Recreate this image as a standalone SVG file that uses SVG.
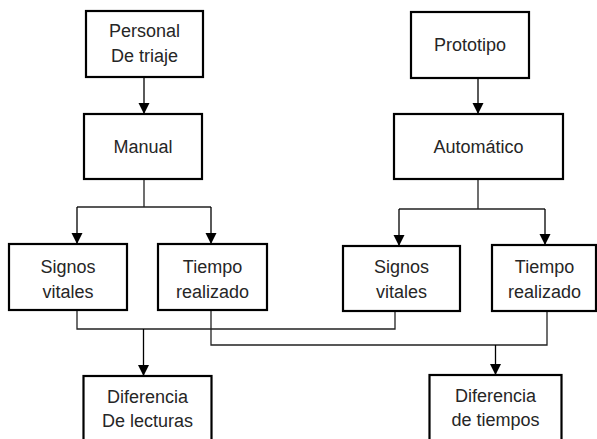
<svg xmlns="http://www.w3.org/2000/svg" width="597" height="439" viewBox="0 0 597 439">
<style>
.box{fill:#fff;stroke:#000;stroke-width:2.2}
.t{font-family:"Liberation Sans","Open Sans",Arial,sans-serif;font-size:18px;fill:#262626;text-anchor:middle}
.c{fill:none;stroke:#222;stroke-width:1.3}
.a{fill:none;stroke:#000;stroke-width:1.3;marker-end:url(#ah)}
</style>
<defs>
<marker id="ah" markerUnits="userSpaceOnUse" markerWidth="12" markerHeight="12" viewBox="0 0 12 12" refX="11" refY="6" orient="auto">
<path d="M0,0.5 L11,6 L0,11.5 Z" fill="#000"/>
</marker>
</defs>
<rect width="597" height="439" fill="#fff"/>
<g id="connectors">
<path class="a" d="M144,77 V114"/>
<path class="a" d="M478,78 V114"/>
<path class="c" d="M144,179 V207 M77,207 H211"/>
<path class="a" d="M77,207 V244"/>
<path class="a" d="M211,207 V244"/>
<path class="c" d="M478,179 V209 M399,209 H545"/>
<path class="a" d="M399,209 V246"/>
<path class="a" d="M545,209 V245"/>
<path class="c" d="M77,310 V329 H395 V311"/>
<path class="a" d="M143.5,329 V376"/>
<path class="c" d="M211,310 V345 H547 V311"/>
<path class="a" d="M495.5,345 V375"/>
</g>
<g id="personal"><rect class="box" x="86" y="11" width="117" height="66"/><text class="t" x="144.5" y="37">Personal</text><text class="t" x="144.5" y="62">De triaje</text></g>
<g id="manual"><rect class="box" x="84" y="114" width="118" height="65"/><text class="t" x="143" y="153">Manual</text></g>
<g id="prototipo"><rect class="box" x="411" y="12" width="118" height="66"/><text class="t" x="470" y="51">Prototipo</text></g>
<g id="automatico"><rect class="box" x="394" y="114" width="169" height="65"/><text class="t" x="478.5" y="153">Automático</text></g>
<g id="signos1"><rect class="box" x="9" y="244" width="118" height="66"/><text class="t" x="68" y="273">Signos</text><text class="t" x="68" y="298">vitales</text></g>
<g id="tiempo1"><rect class="box" x="158" y="244" width="109" height="66"/><text class="t" x="212.5" y="273">Tiempo</text><text class="t" x="212.5" y="298">realizado</text></g>
<g id="signos2"><rect class="box" x="343" y="246" width="117" height="65"/><text class="t" x="401.5" y="273">Signos</text><text class="t" x="401.5" y="298">vitales</text></g>
<g id="tiempo2"><rect class="box" x="492" y="245" width="104" height="66"/><text class="t" x="544.5" y="273">Tiempo</text><text class="t" x="544.5" y="298">realizado</text></g>
<g id="diflecturas"><rect class="box" x="83.5" y="376" width="128" height="70"/><text class="t" x="147.5" y="403">Diferencia</text><text class="t" x="147.5" y="427">De lecturas</text></g>
<g id="diftiempos"><rect class="box" x="429.5" y="375" width="132" height="70"/><text class="t" x="495.5" y="402">Diferencia</text><text class="t" x="495.5" y="426">de tiempos</text></g>
</svg>
